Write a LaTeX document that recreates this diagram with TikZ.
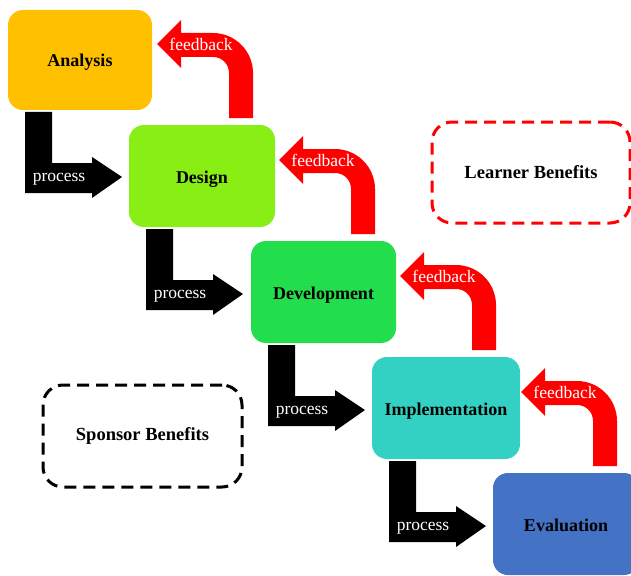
\documentclass[tikz,border=0pt]{standalone}
\usepackage{fontspec}
\setmainfont{Liberation Serif}
\definecolor{cAna}{RGB}{255,192,0}
\definecolor{cDes}{RGB}{136,238,20}
\definecolor{cDev}{RGB}{34,221,76}
\definecolor{cImp}{RGB}{51,209,196}
\definecolor{cEva}{RGB}{68,114,196}
\definecolor{cRed}{RGB}{255,0,0}
\begin{document}
\begin{tikzpicture}[x=1pt,y=-1pt,
  stagebox/.style={rectangle, rounded corners=15pt, inner sep=0pt, outer sep=0pt,
    minimum width=146pt, minimum height=102pt, anchor=north west,
    text height=14pt, text depth=0pt,
    font=\fontsize{18}{21}\selectfont\bfseries, text=black},
  benefitbox/.style={rectangle, rounded corners=20pt, line width=3pt,
    dash pattern=on 12pt off 7pt, inner sep=0pt, outer sep=0pt, anchor=north west,
    font=\fontsize{18.5}{21}\selectfont\bfseries},
  arrowlabel/.style={text=white, font=\fontsize{17.5}{20}\selectfont, inner sep=0pt},
  procarrow/.pic={
    \fill[black] (17,2) -- (44,2) -- (44,53) -- (84,53) -- (84,47) -- (114,67)
      -- (84,88) -- (84,83) -- (17,83) -- cycle;
    \node[arrowlabel] (-t) at (51,69) {process};
  },
  fbarrow/.pic={
    \fill[cRed] (100,-7) -- (124,-7) -- (124,-52) .. controls (124,-74) and (106,-92) .. (84,-92)
      -- (52,-92) -- (52,-105) -- (28,-81) -- (52,-57) -- (52,-68) -- (84,-68)
      .. controls (93,-68) and (100,-61) .. (100,-52) -- cycle;
    \node[arrowlabel] (-t) at (72,-81) {feedback};
  }
]
\useasboundingbox (0,0) rectangle (631,575);

\node[stagebox, fill=cAna, minimum width=144pt, minimum height=100pt] (ana) at (8,10) {Analysis};
\node[stagebox, fill=cDes] (des) at (129,125) {Design};
\node[stagebox, fill=cDev, minimum width=145pt] (dev) at (251,241) {Development};
\node[stagebox, fill=cImp, minimum width=148pt] (imp) at (372,357) {Implementation};
\node[stagebox, fill=cEva] (eva) at (493,473) {Evaluation};

\node[benefitbox, draw=cRed, minimum width=198pt, minimum height=101pt] (learn) at (432,122) {Learner Benefits};
\node[benefitbox, draw=black, minimum width=199pt, minimum height=102pt] (spons) at (43,385) {Sponsor Benefits};

\pic (p1) at (ana.south west) {procarrow};
\pic (p2) at (des.south west) {procarrow};
\pic (p3) at (dev.south west) {procarrow};
\pic (p4) at (imp.south west) {procarrow};

\pic (f1) at (des.north west) {fbarrow};
\pic (f2) at (dev.north west) {fbarrow};
\pic (f3) at (imp.north west) {fbarrow};
\pic (f4) at (eva.north west) {fbarrow};
\end{tikzpicture}
\end{document}
